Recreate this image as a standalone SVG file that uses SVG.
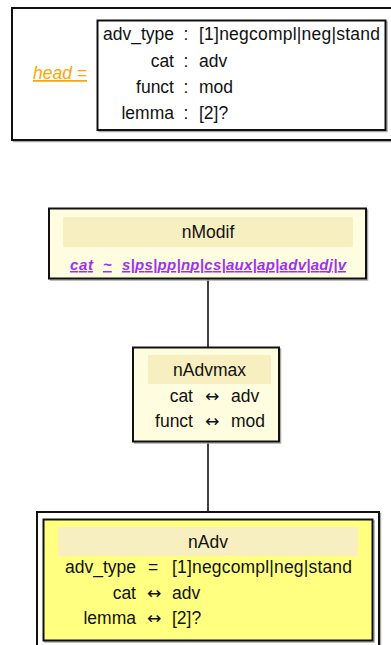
<svg xmlns="http://www.w3.org/2000/svg" width="391" height="645" viewBox="0 0 391 645">
<style>
text{font-family:"Liberation Sans",Arial,sans-serif;font-size:17.5px;fill:#111}
.sh{fill:none;stroke:#aaa;stroke-width:1.5}
.bd{stroke:#111;stroke-width:2}
.band{fill:#F8EFC0}
.e{text-anchor:end}
.m{text-anchor:middle}
.arr{font-family:"DejaVu Sans",sans-serif;font-size:17px}
.pu{fill:#A030F0;font-size:15px;font-weight:bold;font-style:italic;text-decoration:underline}
.ln{stroke:#111;stroke-width:1.6;fill:none}
</style>
<g id="head">
<rect class="sh" x="13.5" y="9.5" width="390" height="132"/>
<rect class="bd" x="12" y="8" width="390" height="132" fill="#fff"/>
<text x="33" y="79" style="fill:#FFA500;font-style:italic;text-decoration:underline">head =</text>
<rect class="sh" x="99" y="22" width="288" height="109.5"/>
<rect class="bd" x="97.5" y="20.5" width="288" height="109.5" fill="#fff"/>
<text class="e" x="174" y="40">adv_type</text><text class="m" x="186" y="40">:</text><text x="199" y="40" textLength="181" lengthAdjust="spacing">[1]negcompl|neg|stand</text>
<text class="e" x="174" y="66.5">cat</text><text class="m" x="186" y="66.5">:</text><text x="199" y="66.5">adv</text>
<text class="e" x="174" y="92.5">funct</text><text class="m" x="186" y="92.5">:</text><text x="199" y="92.5">mod</text>
<text class="e" x="174" y="119">lemma</text><text class="m" x="186" y="119">:</text><text x="199" y="119">[2]?</text>
</g>
<g id="connectors">
<line class="ln" x1="208" y1="278" x2="208" y2="347"/>
<line class="ln" x1="208" y1="442" x2="208" y2="512"/>
</g>
<g id="nModif">
<rect class="sh" x="50.5" y="210" width="317" height="70"/>
<rect class="bd" x="49" y="208.5" width="317" height="70" fill="#FFFDE0"/>
<rect class="band" x="63" y="217" width="290" height="30"/>
<text class="m" x="208" y="238">nModif</text>
<text class="pu" x="70" y="270" textLength="23" lengthAdjust="spacing">cat</text>
<text class="pu" x="103" y="270">~</text>
<text class="pu" x="122" y="270" textLength="224" lengthAdjust="spacing">s|ps|pp|np|cs|aux|ap|adv|adj|v</text>
</g>
<g id="nAdvmax">
<rect class="sh" x="134.5" y="349" width="146" height="94"/>
<rect class="bd" x="133" y="347.5" width="146" height="94" fill="#FFFDE0"/>
<rect class="band" x="148" y="355" width="123" height="29"/>
<text class="m" x="209.5" y="376">nAdvmax</text>
<text class="e" x="193" y="402">cat</text><text class="m arr" x="212" y="402">↔</text><text x="231" y="402">adv</text>
<text class="e" x="193" y="427">funct</text><text class="m arr" x="212" y="427">↔</text><text x="231" y="427">mod</text>
</g>
<g id="nAdv">
<rect class="sh" x="38.5" y="513.5" width="342" height="150"/>
<rect class="bd" x="37" y="512" width="342" height="150" fill="#fff"/>
<rect class="sh" x="45" y="521" width="329" height="121"/>
<rect class="bd" x="43.5" y="519.5" width="329" height="121" fill="#FFFF80"/>
<rect class="band" x="58" y="527" width="300" height="29"/>
<text class="m" x="208" y="548">nAdv</text>
<text class="e" x="136" y="573">adv_type</text><text class="m" x="153" y="573">=</text><text x="172" y="573" textLength="180" lengthAdjust="spacing">[1]negcompl|neg|stand</text>
<text class="e" x="136" y="599">cat</text><text class="m arr" x="154" y="599">↔</text><text x="172" y="599">adv</text>
<text class="e" x="136" y="624">lemma</text><text class="m arr" x="154" y="624">↔</text><text x="172" y="624">[2]?</text>
</g>
</svg>
